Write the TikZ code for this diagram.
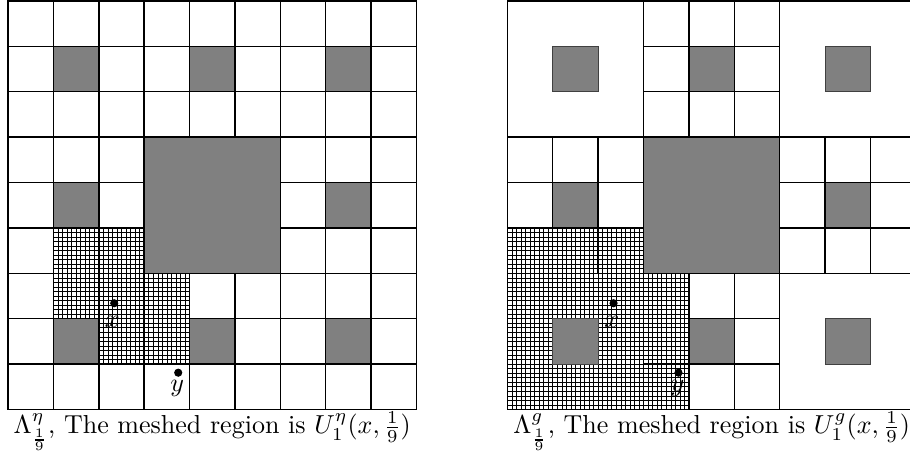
\documentclass[tikz,border=0pt]{standalone}
\begin{document}
\begin{tikzpicture}[
  gridline/.style={line width=0.9pt, line cap=rect},
  meshline/.style={line width=0.35pt},
  graycell/.style={fill=gray, draw=black, line width=0.9pt},
  centersq/.style={fill=gray, draw=black!75, line width=0.4pt},
  dotpt/.style={circle, fill=black, inner sep=0pt, minimum size=0.18cm},
  bigtext/.style={scale=1.63},
  lbl/.style={bigtext, anchor=base, inner sep=0pt}
]
\useasboundingbox (-0.176,-1.12) rectangle (19.87,9.02);

% ---------------- Left picture ----------------
\begin{scope}
  % meshed region
  \draw[meshline] (1,3) grid[step=0.1] (3,4);
  \draw[meshline] (1,2) grid[step=0.1] (4,3);
  \draw[meshline] (2,1) grid[step=0.1] (4,2);
  % unit grid
  \draw[gridline] (0,0) grid[step=1] (9,9);
  % gray cells
  \foreach \c/\r in {1/7,4/7,7/7,1/4,7/4,1/1,4/1,7/1}
    \draw[graycell] (\c,\r) rectangle ++(1,1);
  \draw[graycell] (3,3) rectangle (6,6);
  % points
  \node[dotpt] (xL) at (2.34,2.34) {};
  \node[lbl] (xLlab) at (2.30,1.80) {$x$};
  \node[dotpt] (yL) at (3.75,0.81) {};
  \node[lbl] (yLlab) at (3.73,0.40) {$y$};
  % caption
  \node[bigtext, anchor=base] (capL) at (4.5,-0.54)
    {$\Lambda^{\eta}_{\frac{1}{9}}$, The meshed region is $U^{\eta}_{1}(x,\frac{1}{9})$};
\end{scope}

% ---------------- Right picture ----------------
\begin{scope}[shift={(11,0)}]
  % meshed region
  \draw[meshline] (0,0) grid[step=0.1] (3,3);
  \draw[meshline] (0,3) grid[step=0.1] (3,4);
  \draw[meshline] (3,0) grid[step=0.1] (4,3);
  % gray centres of undivided blocks
  \foreach \c/\r in {1/7,7/7,1/1,7/1}
    \draw[centersq] (\c,\r) rectangle ++(1,1);
  % block grid
  \draw[gridline] (0,0) grid[step=3] (9,9);
  % subdivided blocks
  \draw[gridline] (3,6) grid[step=1] (6,9);
  \draw[gridline] (0,3) grid[step=1] (3,6);
  \draw[gridline] (6,3) grid[step=1] (9,6);
  \draw[gridline] (3,0) grid[step=1] (6,3);
  % gray cells of subdivided blocks
  \foreach \c/\r in {4/7,1/4,7/4,4/1}
    \draw[graycell] (\c,\r) rectangle ++(1,1);
  \draw[graycell] (3,3) rectangle (6,6);
  % points
  \node[dotpt] (xR) at (2.34,2.34) {};
  \node[lbl] (xRlab) at (2.30,1.80) {$x$};
  \node[dotpt] (yR) at (3.77,0.81) {};
  \node[lbl] (yRlab) at (3.75,0.40) {$y$};
  % caption
  \node[bigtext, anchor=base] (capR) at (4.5,-0.54)
    {$\Lambda^{g}_{\frac{1}{9}}$, The meshed region is $U^{g}_{1}(x,\frac{1}{9})$};
\end{scope}
\end{tikzpicture}
\end{document}
